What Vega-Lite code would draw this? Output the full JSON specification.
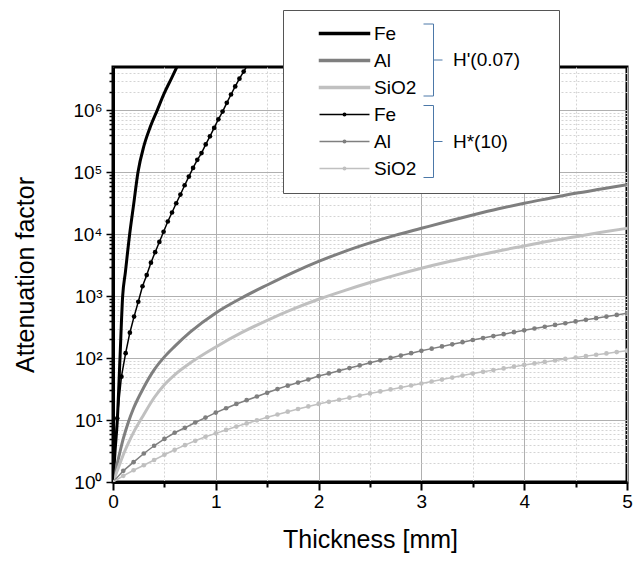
{
"$schema": "https://vega.github.io/schema/vega-lite/v6.json",
"width": 514, "height": 415,
"autosize": "none",
"padding": {"left": 113, "top": 67, "right": 13, "bottom": 80},
"background": "white",
"config": {"view": {"stroke": "black", "strokeWidth": 3}, "font": "Liberation Sans"},
"datasets": {
"hp": [
{"t":0,"v":1,"s":"Fe H'(0.07)"},{"t":0.02,"v":3.16,"s":"Fe H'(0.07)"},{"t":0.042,"v":10,"s":"Fe H'(0.07)"},{"t":0.068,"v":100,"s":"Fe H'(0.07)"},{"t":0.094,"v":1000,"s":"Fe H'(0.07)"},{"t":0.12,"v":2400,"s":"Fe H'(0.07)"},{"t":0.162,"v":10000,"s":"Fe H'(0.07)"},{"t":0.2,"v":29500,"s":"Fe H'(0.07)"},{"t":0.243,"v":100000,"s":"Fe H'(0.07)"},{"t":0.3,"v":263000,"s":"Fe H'(0.07)"},{"t":0.36,"v":525000,"s":"Fe H'(0.07)"},{"t":0.43,"v":1000000,"s":"Fe H'(0.07)"},{"t":0.5,"v":1905000,"s":"Fe H'(0.07)"},{"t":0.57,"v":3311000,"s":"Fe H'(0.07)"},{"t":0.63,"v":5370000,"s":"Fe H'(0.07)"},
{"t":0,"v":1,"s":"Al H'(0.07)"},{"t":0.025,"v":1.514,"s":"Al H'(0.07)"},{"t":0.05,"v":2.291,"s":"Al H'(0.07)"},{"t":0.1,"v":5.012,"s":"Al H'(0.07)"},{"t":0.15,"v":9.333,"s":"Al H'(0.07)"},{"t":0.2,"v":15.49,"s":"Al H'(0.07)"},{"t":0.3,"v":33.88,"s":"Al H'(0.07)"},{"t":0.4,"v":64.57,"s":"Al H'(0.07)"},{"t":0.5,"v":104.7,"s":"Al H'(0.07)"},{"t":0.6,"v":154.9,"s":"Al H'(0.07)"},{"t":0.75,"v":263,"s":"Al H'(0.07)"},{"t":1,"v":537,"s":"Al H'(0.07)"},{"t":1.25,"v":933,"s":"Al H'(0.07)"},{"t":1.5,"v":1514,"s":"Al H'(0.07)"},{"t":1.75,"v":2399,"s":"Al H'(0.07)"},{"t":2,"v":3631,"s":"Al H'(0.07)"},{"t":2.25,"v":5248,"s":"Al H'(0.07)"},{"t":2.5,"v":7244,"s":"Al H'(0.07)"},{"t":2.75,"v":9661,"s":"Al H'(0.07)"},{"t":3,"v":12450,"s":"Al H'(0.07)"},{"t":3.25,"v":16030,"s":"Al H'(0.07)"},{"t":3.5,"v":20420,"s":"Al H'(0.07)"},{"t":3.75,"v":25700,"s":"Al H'(0.07)"},{"t":4,"v":31620,"s":"Al H'(0.07)"},{"t":4.25,"v":38020,"s":"Al H'(0.07)"},{"t":4.5,"v":45710,"s":"Al H'(0.07)"},{"t":4.75,"v":53700,"s":"Al H'(0.07)"},{"t":5,"v":63100,"s":"Al H'(0.07)"},
{"t":0,"v":1,"s":"SiO2 H'(0.07)"},{"t":0.025,"v":1.288,"s":"SiO2 H'(0.07)"},{"t":0.05,"v":1.66,"s":"SiO2 H'(0.07)"},{"t":0.1,"v":2.754,"s":"SiO2 H'(0.07)"},{"t":0.15,"v":4.266,"s":"SiO2 H'(0.07)"},{"t":0.2,"v":6.31,"s":"SiO2 H'(0.07)"},{"t":0.3,"v":12.3,"s":"SiO2 H'(0.07)"},{"t":0.4,"v":22.91,"s":"SiO2 H'(0.07)"},{"t":0.5,"v":37.15,"s":"SiO2 H'(0.07)"},{"t":0.6,"v":53.7,"s":"SiO2 H'(0.07)"},{"t":0.75,"v":83.18,"s":"SiO2 H'(0.07)"},{"t":1,"v":151.4,"s":"SiO2 H'(0.07)"},{"t":1.25,"v":257,"s":"SiO2 H'(0.07)"},{"t":1.5,"v":407.4,"s":"SiO2 H'(0.07)"},{"t":1.75,"v":616.6,"s":"SiO2 H'(0.07)"},{"t":2,"v":891.3,"s":"SiO2 H'(0.07)"},{"t":2.25,"v":1230,"s":"SiO2 H'(0.07)"},{"t":2.5,"v":1660,"s":"SiO2 H'(0.07)"},{"t":2.75,"v":2188,"s":"SiO2 H'(0.07)"},{"t":3,"v":2818,"s":"SiO2 H'(0.07)"},{"t":3.25,"v":3548,"s":"SiO2 H'(0.07)"},{"t":3.5,"v":4365,"s":"SiO2 H'(0.07)"},{"t":3.75,"v":5370,"s":"SiO2 H'(0.07)"},{"t":4,"v":6457,"s":"SiO2 H'(0.07)"},{"t":4.25,"v":7762,"s":"SiO2 H'(0.07)"},{"t":4.5,"v":9120,"s":"SiO2 H'(0.07)"},{"t":4.75,"v":10720,"s":"SiO2 H'(0.07)"},{"t":5,"v":12450,"s":"SiO2 H'(0.07)"}
],
"hs": [
{"t":0,"v":1,"s":"Fe H*(10)"},{"t":0.041,"v":10.7,"s":"Fe H*(10)"},{"t":0.082,"v":50.1,"s":"Fe H*(10)"},{"t":0.123,"v":120,"s":"Fe H*(10)"},{"t":0.164,"v":257,"s":"Fe H*(10)"},{"t":0.205,"v":468,"s":"Fe H*(10)"},{"t":0.246,"v":813,"s":"Fe H*(10)"},{"t":0.287,"v":1445,"s":"Fe H*(10)"},{"t":0.328,"v":2188,"s":"Fe H*(10)"},{"t":0.369,"v":3467,"s":"Fe H*(10)"},{"t":0.41,"v":5129,"s":"Fe H*(10)"},{"t":0.451,"v":7499,"s":"Fe H*(10)"},{"t":0.492,"v":10960,"s":"Fe H*(10)"},{"t":0.533,"v":16030,"s":"Fe H*(10)"},{"t":0.574,"v":22390,"s":"Fe H*(10)"},{"t":0.615,"v":31620,"s":"Fe H*(10)"},{"t":0.656,"v":43650,"s":"Fe H*(10)"},{"t":0.697,"v":61660,"s":"Fe H*(10)"},{"t":0.738,"v":85110,"s":"Fe H*(10)"},{"t":0.779,"v":117500,"s":"Fe H*(10)"},{"t":0.82,"v":158500,"s":"Fe H*(10)"},{"t":0.861,"v":204200,"s":"Fe H*(10)"},{"t":0.902,"v":281800,"s":"Fe H*(10)"},{"t":0.943,"v":380200,"s":"Fe H*(10)"},{"t":0.984,"v":518800,"s":"Fe H*(10)"},{"t":1.025,"v":716100,"s":"Fe H*(10)"},{"t":1.066,"v":955000,"s":"Fe H*(10)"},{"t":1.107,"v":1318000,"s":"Fe H*(10)"},{"t":1.148,"v":1799000,"s":"Fe H*(10)"},{"t":1.189,"v":2427000,"s":"Fe H*(10)"},{"t":1.23,"v":3236000,"s":"Fe H*(10)"},{"t":1.271,"v":4217000,"s":"Fe H*(10)"},{"t":1.312,"v":5495000,"s":"Fe H*(10)"},
{"t":0,"v":1,"s":"Al H*(10)"},{"t":0.1,"v":1.514,"s":"Al H*(10)"},{"t":0.2,"v":2.089,"s":"Al H*(10)"},{"t":0.3,"v":2.884,"s":"Al H*(10)"},{"t":0.4,"v":3.846,"s":"Al H*(10)"},{"t":0.5,"v":4.955,"s":"Al H*(10)"},{"t":0.6,"v":6.237,"s":"Al H*(10)"},{"t":0.7,"v":7.499,"s":"Al H*(10)"},{"t":0.8,"v":9.12,"s":"Al H*(10)"},{"t":0.9,"v":10.96,"s":"Al H*(10)"},{"t":1,"v":13.18,"s":"Al H*(10)"},{"t":1.1,"v":15.49,"s":"Al H*(10)"},{"t":1.2,"v":18.2,"s":"Al H*(10)"},{"t":1.3,"v":20.9,"s":"Al H*(10)"},{"t":1.4,"v":23.99,"s":"Al H*(10)"},{"t":1.5,"v":27.54,"s":"Al H*(10)"},{"t":1.6,"v":31.62,"s":"Al H*(10)"},{"t":1.7,"v":35.9,"s":"Al H*(10)"},{"t":1.8,"v":40.27,"s":"Al H*(10)"},{"t":1.9,"v":45.19,"s":"Al H*(10)"},{"t":2,"v":51.29,"s":"Al H*(10)"},{"t":2.1,"v":56.6,"s":"Al H*(10)"},{"t":2.2,"v":62.5,"s":"Al H*(10)"},{"t":2.3,"v":69,"s":"Al H*(10)"},{"t":2.4,"v":76.2,"s":"Al H*(10)"},{"t":2.5,"v":84.1,"s":"Al H*(10)"},{"t":2.6,"v":92,"s":"Al H*(10)"},{"t":2.7,"v":100.5,"s":"Al H*(10)"},{"t":2.8,"v":109.9,"s":"Al H*(10)"},{"t":2.9,"v":120,"s":"Al H*(10)"},{"t":3,"v":131.2,"s":"Al H*(10)"},{"t":3.1,"v":142.2,"s":"Al H*(10)"},{"t":3.2,"v":154.2,"s":"Al H*(10)"},{"t":3.3,"v":166.7,"s":"Al H*(10)"},{"t":3.4,"v":180.7,"s":"Al H*(10)"},{"t":3.5,"v":195.9,"s":"Al H*(10)"},{"t":3.6,"v":210.4,"s":"Al H*(10)"},{"t":3.7,"v":226.5,"s":"Al H*(10)"},{"t":3.8,"v":243.2,"s":"Al H*(10)"},{"t":3.9,"v":261.8,"s":"Al H*(10)"},{"t":4,"v":281.2,"s":"Al H*(10)"},{"t":4.1,"v":300.6,"s":"Al H*(10)"},{"t":4.2,"v":320.6,"s":"Al H*(10)"},{"t":4.3,"v":342.8,"s":"Al H*(10)"},{"t":4.4,"v":365.6,"s":"Al H*(10)"},{"t":4.5,"v":390.8,"s":"Al H*(10)"},{"t":4.6,"v":415,"s":"Al H*(10)"},{"t":4.7,"v":440.6,"s":"Al H*(10)"},{"t":4.8,"v":468.8,"s":"Al H*(10)"},{"t":4.9,"v":497.7,"s":"Al H*(10)"},{"t":5,"v":528.4,"s":"Al H*(10)"},
{"t":0,"v":1,"s":"SiO2 H*(10)"},{"t":0.1,"v":1.259,"s":"SiO2 H*(10)"},{"t":0.2,"v":1.549,"s":"SiO2 H*(10)"},{"t":0.3,"v":1.862,"s":"SiO2 H*(10)"},{"t":0.4,"v":2.265,"s":"SiO2 H*(10)"},{"t":0.5,"v":2.754,"s":"SiO2 H*(10)"},{"t":0.6,"v":3.311,"s":"SiO2 H*(10)"},{"t":0.7,"v":3.936,"s":"SiO2 H*(10)"},{"t":0.8,"v":4.624,"s":"SiO2 H*(10)"},{"t":0.9,"v":5.37,"s":"SiO2 H*(10)"},{"t":1,"v":6.095,"s":"SiO2 H*(10)"},{"t":1.1,"v":6.918,"s":"SiO2 H*(10)"},{"t":1.2,"v":7.852,"s":"SiO2 H*(10)"},{"t":1.3,"v":8.81,"s":"SiO2 H*(10)"},{"t":1.4,"v":9.886,"s":"SiO2 H*(10)"},{"t":1.5,"v":11.09,"s":"SiO2 H*(10)"},{"t":1.6,"v":12.3,"s":"SiO2 H*(10)"},{"t":1.7,"v":13.65,"s":"SiO2 H*(10)"},{"t":1.8,"v":15.07,"s":"SiO2 H*(10)"},{"t":1.9,"v":16.6,"s":"SiO2 H*(10)"},{"t":2,"v":18.2,"s":"SiO2 H*(10)"},{"t":2.1,"v":19.68,"s":"SiO2 H*(10)"},{"t":2.2,"v":21.28,"s":"SiO2 H*(10)"},{"t":2.3,"v":23.01,"s":"SiO2 H*(10)"},{"t":2.4,"v":24.89,"s":"SiO2 H*(10)"},{"t":2.5,"v":26.92,"s":"SiO2 H*(10)"},{"t":2.6,"v":28.97,"s":"SiO2 H*(10)"},{"t":2.7,"v":31.19,"s":"SiO2 H*(10)"},{"t":2.8,"v":33.57,"s":"SiO2 H*(10)"},{"t":2.9,"v":36.14,"s":"SiO2 H*(10)"},{"t":3,"v":38.9,"s":"SiO2 H*(10)"},{"t":3.1,"v":41.88,"s":"SiO2 H*(10)"},{"t":3.2,"v":45.08,"s":"SiO2 H*(10)"},{"t":3.3,"v":48.53,"s":"SiO2 H*(10)"},{"t":3.4,"v":52.24,"s":"SiO2 H*(10)"},{"t":3.5,"v":56.23,"s":"SiO2 H*(10)"},{"t":3.6,"v":59.98,"s":"SiO2 H*(10)"},{"t":3.7,"v":63.97,"s":"SiO2 H*(10)"},{"t":3.8,"v":68.23,"s":"SiO2 H*(10)"},{"t":3.9,"v":72.78,"s":"SiO2 H*(10)"},{"t":4,"v":77.62,"s":"SiO2 H*(10)"},{"t":4.1,"v":82.04,"s":"SiO2 H*(10)"},{"t":4.2,"v":86.7,"s":"SiO2 H*(10)"},{"t":4.3,"v":91.62,"s":"SiO2 H*(10)"},{"t":4.4,"v":96.83,"s":"SiO2 H*(10)"},{"t":4.5,"v":102.3,"s":"SiO2 H*(10)"},{"t":4.6,"v":107.6,"s":"SiO2 H*(10)"},{"t":4.7,"v":113.2,"s":"SiO2 H*(10)"},{"t":4.8,"v":119.1,"s":"SiO2 H*(10)"},{"t":4.9,"v":125.3,"s":"SiO2 H*(10)"},{"t":5,"v":131.8,"s":"SiO2 H*(10)"}
],
"grp": [{"g":"H'(0.07)"},{"g":"H*(10)"}]
},
"layer": [
{"data": {"name": "hp"},
 "mark": {"type": "line", "strokeWidth": 3, "clip": true, "interpolate": "monotone"},
 "encoding": {
  "x": {"field": "t", "type": "quantitative", "scale": {"domain": [0, 5], "nice": false},
   "axis": {"title": "Thickness [mm]", "values": [0,0.5,1,1.5,2,2.5,3,3.5,4,4.5,5],
    "labelExpr": "datum.value % 1 === 0 ? format(datum.value, 'd') : ''", "labelFlush": false, "labelOverlap": false,
    "labelFont": "Liberation Sans", "labelFontSize": 19, "labelColor": "black", "labelPadding": 2,
    "tickColor": "black", "tickWidth": 2, "tickSize": 8,
    "tickDash": {"condition": {"test": "datum.value % 1 === 0", "value": []}, "value": [5, 20]},
    "domainColor": "black", "domainWidth": 3,
    "grid": true, "gridColor": {"condition": {"test": "datum.value % 1 === 0", "value": "#b0b0b0"}, "value": "#d4d4d4"},
    "gridDash": {"condition": {"test": "datum.value % 1 === 0", "value": []}, "value": [2, 2]}, "gridWidth": 1,
    "titleFont": "Liberation Sans", "titleFontSize": 25, "titleFontWeight": "normal", "titleColor": "black", "titlePadding": 16}},
  "y": {"field": "v", "type": "quantitative", "scale": {"type": "log", "domain": [1, 5000000], "nice": false},
   "axis": {"title": "Attenuation factor",
    "values": [1,2,3,4,5,6,7,8,9,10,20,30,40,50,60,70,80,90,100,200,300,400,500,600,700,800,900,1000,2000,3000,4000,5000,6000,7000,8000,9000,10000,20000,30000,40000,50000,60000,70000,80000,90000,100000,200000,300000,400000,500000,600000,700000,800000,900000,1000000,2000000,3000000,4000000],
    "labelExpr": "datum.value == 1 ? '10⁰' : datum.value == 10 ? '10¹' : datum.value == 100 ? '10²' : datum.value == 1000 ? '10³' : datum.value == 10000 ? '10⁴' : datum.value == 100000 ? '10⁵' : datum.value == 1000000 ? '10⁶' : ''",
    "labelOverlap": false, "labelFont": "Liberation Sans", "labelFontSize": 19, "labelColor": "black", "labelPadding": 4,
    "tickColor": "black", "tickWidth": 1.5, "tickSize": 7,
    "tickDash": {"condition": {"test": "indexof([1,10,100,1000,10000,100000,1000000], datum.value) >= 0", "value": []}, "value": [4, 20]},
    "domainColor": "black", "domainWidth": 3,
    "grid": true,
    "gridColor": {"condition": {"test": "indexof([1,10,100,1000,10000,100000,1000000], datum.value) >= 0", "value": "#b0b0b0"}, "value": "#d4d4d4"},
    "gridDash": {"condition": {"test": "indexof([1,10,100,1000,10000,100000,1000000], datum.value) >= 0", "value": []}, "value": [2, 2]},
    "titleFont": "Liberation Sans", "titleFontSize": 25, "titleFontWeight": "normal", "titleColor": "black", "titlePadding": 34}},
  "color": {"field": "s", "type": "nominal",
   "scale": {"domain": ["Fe H'(0.07)", "Al H'(0.07)", "SiO2 H'(0.07)", "Fe H*(10)", "Al H*(10)", "SiO2 H*(10)"],
             "range": ["#000000", "#7f7f7f", "#c0c0c0", "#000000", "#7f7f7f", "#c0c0c0"]},
   "legend": {"orient": "none", "legendX": 170, "legendY": -57, "fillColor": "white", "strokeColor": "#555555", "padding": 14, "zindex": 1,
    "title": "MMMMMMM", "titleOrient": "right", "titleColor": "white", "titleFontSize": 19, "titleFontWeight": "normal", "titlePadding": 18,
    "labelExpr": "split(datum.label, ' ')[0]",
    "labelFont": "Liberation Sans", "labelFontSize": 19, "labelColor": "black", "labelLimit": 400,
    "symbolSize": 100, "symbolStrokeWidth": 1.5, "symbolOffset": 38, "labelOffset": 20, "rowPadding": 7,
    "encode": {"symbols": {"update": {
      "shape": [{"test": "indexof(datum.value, 'H*') < 0", "value": "M-5,-0.2H5V0.2H-5Z"}, {"value": "M-5,0H5M0.25,0A0.25,0.25,0,1,1,-0.25,0A0.25,0.25,0,1,1,0.25,0Z"}],
      "fill": {"scale": "color", "field": "value"},
      "stroke": {"scale": "color", "field": "value"},
      "strokeWidth": {"value": 1.5},
      "opacity": {"value": 1},
      "size": {"value": 100}}}}}}
 }},
{"data": {"name": "hs"},
 "mark": {"type": "line", "strokeWidth": 1.5, "clip": true},
 "encoding": {
  "x": {"field": "t", "type": "quantitative"},
  "y": {"field": "v", "type": "quantitative"},
  "color": {"field": "s", "type": "nominal"}}},
{"data": {"name": "hs"},
 "mark": {"type": "point", "filled": true, "size": 22, "opacity": 1, "clip": true},
 "encoding": {
  "x": {"field": "t", "type": "quantitative"},
  "y": {"field": "v", "type": "quantitative"},
  "color": {"field": "s", "type": "nominal"}}},
{"data": {"name": "grp"},
 "mark": {"type": "point", "opacity": 0},
 "encoding": {
  "shape": {"field": "g", "type": "nominal",
   "scale": {"domain": ["H'(0.07)", "H*(10)"], "range": ["M-2,-7.2H0V7.2H-2M0,0H1.8", "M-2,-7.2H0V7.2H-2M0,0H1.8"]},
   "legend": {"orient": "none", "legendX": 311, "legendY": -16.5, "padding": 0, "title": null, "zindex": 2,
    "labelFont": "Liberation Sans", "labelFontSize": 19, "labelColor": "black", "labelOffset": 10,
    "symbolSize": 100, "rowPadding": 4.5, "symbolStrokeWidth": 1,
    "encode": {"symbols": {"update": {"opacity": {"value": 1}, "stroke": {"value": "#333333"}, "strokeWidth": {"value": 1}, "fill": {"value": "transparent"}, "size": {"value": 100}}}}}}}}
]
}
